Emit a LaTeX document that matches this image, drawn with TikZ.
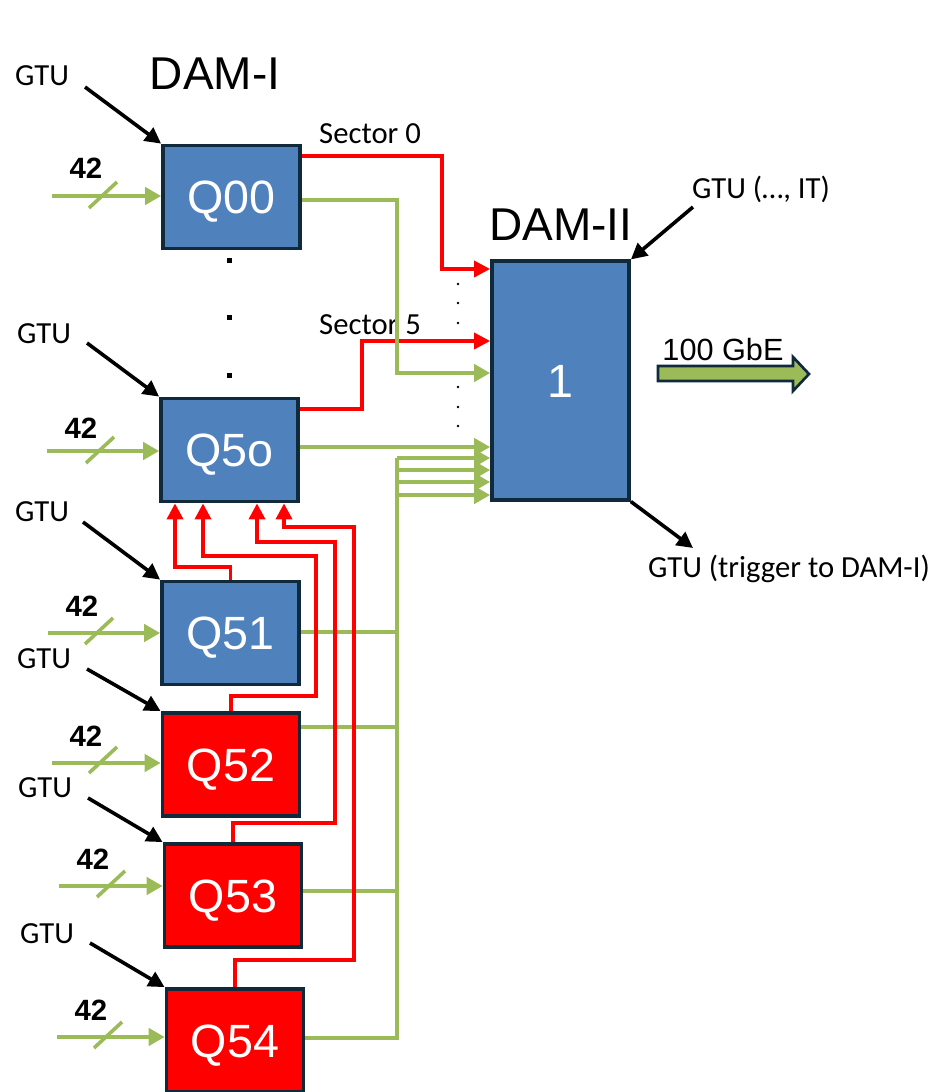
\documentclass[tikz,border=0pt]{standalone}
\usepackage{fontspec}
\setmainfont{Liberation Sans}
\newfontfamily\calibri{Carlito}
\usepackage{xcolor}
\usepackage{tikz}
\usetikzlibrary{arrows.meta,positioning,calc}
\definecolor{qblue}{HTML}{4F81BD}
\definecolor{qnavy}{HTML}{10293B}
\definecolor{qgreen}{HTML}{9BBB59}
\definecolor{qred}{HTML}{FF0000}
\tikzset{
  modbox/.style={draw=qnavy,line width=2.6pt,minimum width=103pt,minimum height=77.5pt,
    inner sep=0pt,text=white,text height=25pt,text depth=0pt,font=\fontsize{35}{40}\selectfont},
  bluebox/.style={modbox,fill=qblue},
  redbox/.style={modbox,fill=qred},
  title/.style={anchor=base,inner sep=0pt,font=\fontsize{34.5}{40}\selectfont},
  smalllab/.style={anchor=base,inner sep=0pt,font=\calibri\fontsize{23}{26}\selectfont},
  widthlab/.style={anchor=base,inner sep=0pt,font=\bfseries\fontsize{22}{26}\selectfont},
  gtuarrow/.style={black,line width=2.7pt,-{Triangle[length=12pt,width=12pt]}},
  greenline/.style={qgreen,line width=2.7pt},
  greenarrow/.style={greenline,-{Triangle[length=12pt,width=13pt]}},
  redline/.style={qred,line width=2.7pt},
  redarrow/.style={redline,-{Triangle[length=12pt,width=12pt]}}
}
\begin{document}
\begin{tikzpicture}[x=0.75pt,y=-0.75pt]
\useasboundingbox (0,0) rectangle (941,1092);

% titles
\node[title] (dami) at (215,89) {DAM-I};
\node[title] (damii) at (561,240) {DAM-II};

% DAM-I modules
\node[bluebox] (q00) at (231.5,197) {Q00};
\node[bluebox] (q5o) at (229.5,450) {Q5o};
\node[bluebox] (q51) at (230.5,633) {Q51};
\node[redbox] (q52) at (231,764.5) {Q52};
\node[redbox] (q53) at (233,895.5) {Q53};
\node[redbox] (q54) at (235,1040.5) {Q54};

% DAM-II
\node[bluebox,minimum height=179pt] (dam) at (560.5,380.5) {1};

% GTU inputs of DAM-I
\node[smalllab] (gtu0) at (42,85) {GTU};
\node[smalllab] (gtu5) at (44,343) {GTU};
\node[smalllab] (gtu51) at (42,521) {GTU};
\node[smalllab] (gtu52) at (44,668) {GTU};
\node[smalllab] (gtu53) at (45,797) {GTU};
\node[smalllab] (gtu54) at (47,943) {GTU};
\draw[gtuarrow] ([shift={(43,2)}]gtu0.base) -- (q00.north west);
\draw[gtuarrow] ([shift={(43,0)}]gtu5.base) -- (q5o.north west);
\draw[gtuarrow] ([shift={(41,1)}]gtu51.base) -- (q51.north west);
\draw[gtuarrow] ([shift={(43,1)}]gtu52.base) -- (q52.north west);
\draw[gtuarrow] ([shift={(43,1)}]gtu53.base) -- (q53.north west);
\draw[gtuarrow] ([shift={(43,0)}]gtu54.base) -- (q54.north west);

% 42-wide links
\coordinate (in0) at (52,196);
\coordinate (in5) at (47,451);
\coordinate (in51) at (48,633);
\coordinate (in52) at (52,763);
\coordinate (in53) at (59,886);
\coordinate (in54) at (57,1037);
\draw[greenarrow] (in0) -- (q00.west |- in0);
\draw[greenarrow] (in5) -- (q5o.west |- in5);
\draw[greenarrow] (in51) -- (q51.west |- in51);
\draw[greenarrow] (in52) -- (q52.west |- in52);
\draw[greenarrow] (in53) -- (q53.west |- in53);
\draw[greenarrow] (in54) -- (q54.west |- in54);
\draw[greenline] ([shift={(37,12)}]in0) -- ++(28,-26);
\draw[greenline] ([shift={(39,12)}]in5) -- ++(28,-26);
\draw[greenline] ([shift={(37,11)}]in51) -- ++(28,-26);
\draw[greenline] ([shift={(37,10)}]in52) -- ++(28,-26);
\draw[greenline] ([shift={(38,11)}]in53) -- ++(28,-26);
\draw[greenline] ([shift={(37,11)}]in54) -- ++(28,-26);
\node[widthlab] (w0) at (86,178) {42};
\node[widthlab] (w5) at (81,438) {42};
\node[widthlab] (w51) at (82,616) {42};
\node[widthlab] (w52) at (86,746) {42};
\node[widthlab] (w53) at (93,869) {42};
\node[widthlab] (w54) at (91,1020) {42};

% dots between modules
\fill (226.5,257.5) rectangle ++(5,5);
\fill (226.5,314.5) rectangle ++(5,5);
\fill (226.5,372.5) rectangle ++(5,5);
\foreach \y in {284,303,323,387,407,426}
  \fill (458,\y) circle (1.3);

% sector links
\node[smalllab] (sec0) at (370,143) {Sector 0};
\node[smalllab] (sec5) at (370,334) {Sector 5};
\draw[redarrow] (q00.east |- 0,156) -| (442,269) -- (dam.west |- 0,269);
\draw[redarrow] (q5o.east |- 0,409) -| (362,341) -- (dam.west |- 0,341);

% data links
\draw[greenarrow] (q00.east |- 0,200) -| (397,373) -- (dam.west |- 0,373);
\draw[greenarrow] (q5o.east |- 0,447) -- (dam.west |- 0,447);
\draw[greenline] (q51.east |- 0,632) -- (397,632);
\draw[greenline] (q52.east |- 0,727) -- (397,727);
\draw[greenline] (q53.east |- 0,891) -- (397,891);
\draw[greenline] (q54.east |- 0,1038) -| (397,458);
\foreach \y in {458,470,482,495}
  \draw[greenarrow] (397,\y) -- (dam.west |- 0,\y);

% trigger feedback to Q5o
\draw[redarrow] (q51.north) |- (175,567) -- (q5o.south -| 175,0);
\draw[redarrow] (q52.north) |- (316,696) |- (203,556) -- (q5o.south -| 203,0);
\draw[redarrow] (q53.north) |- (335,823) |- (257,542) -- (q5o.south -| 257,0);
\draw[redarrow] (q54.north) |- (354,960) |- (284,527) -- (q5o.south -| 284,0);

% DAM-II GTU and output
\node[smalllab] (gtuit) at (761,198) {GTU (…, IT)};
\node[smalllab] (gtutrig) at (789,577) {GTU (trigger to DAM-I)};
\draw[gtuarrow] ([shift={(-68,9)}]gtuit.base) -- (dam.north east);
\draw[gtuarrow] (dam.south east) -- ([shift={(-96,-29)}]gtutrig.base);
\draw[fill=qgreen,draw=qnavy,line width=2pt]
  (658,366) -- (793,366) -- (793,357) -- (809,374) -- (793,391) -- (793,381) -- (658,381) -- cycle;
\node[anchor=base,inner sep=0pt,font=\fontsize{23}{26}\selectfont] (gbe) at (723,360) {100 GbE};
\end{tikzpicture}
\end{document}
